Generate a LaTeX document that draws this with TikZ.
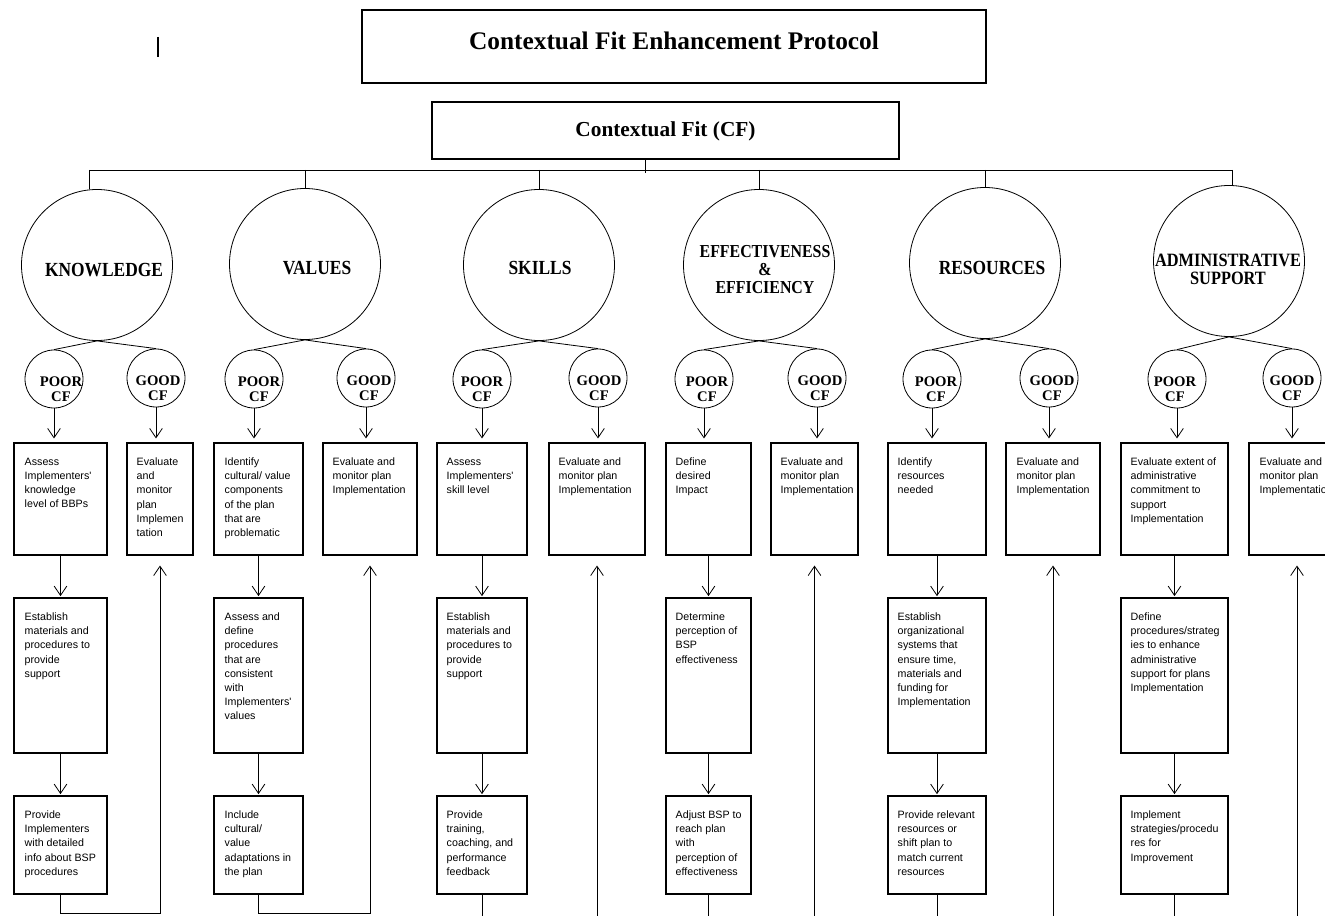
\documentclass[tikz,border=0pt]{standalone}
\usepackage{fontspec}
\setmainfont{Liberation Serif}
\newfontfamily\condserif{Liberation Serif}[FakeStretch=0.87]
\newfontfamily\boxsans{Liberation Sans}
\usetikzlibrary{arrows.meta,fit,calc}
\begin{document}
\begin{tikzpicture}[x=0.75pt,y=-0.75pt,
  frame/.style={draw, line width=0.8pt, inner sep=0pt},
  bigc/.style={draw, circle, line width=0.6pt, minimum size=113.25pt, inner sep=0pt},
  smallc/.style={draw, circle, line width=0.6pt, minimum size=43.5pt, inner sep=0pt},
  biglabel/.style={font=\condserif\bfseries\fontsize{15}{13.5}\selectfont, align=center, inner sep=0pt},
  cflabel/.style={font=\bfseries\fontsize{11}{11.25}\selectfont, align=center, inner sep=0pt},
  stepbox/.style={draw, line width=0.8pt, inner sep=0pt},
  boxtext/.style={font=\boxsans\fontsize{8}{10.65}\selectfont, align=left, anchor=north west, inner sep=0pt},
  link/.style={line width=0.6pt},
  arr/.style={line width=0.6pt, -{Straight Barb[length=7pt,width=9.5pt]}},
]
\useasboundingbox (0,0) rectangle (1325,916);
\fill[white] (0,0) rectangle (1325,916);
\clip (0,0) rectangle (1325,916);

% stray cursor mark
\draw[line width=1.5pt] (158,37) -- (158,57);

% titles
\node[frame, fit={(362,10) (986,83)}] (title) {};
\node[font=\bfseries\fontsize{19}{22}\selectfont, inner sep=0pt] (titlet) at (674,41) {Contextual Fit Enhancement Protocol};
\node[frame, fit={(432,102) (899,159)}] (cf) {};
\node[font=\bfseries\fontsize{16}{19}\selectfont, inner sep=0pt] (cft) at (665.5,131) {Contextual Fit (CF)};

% bus
\coordinate (busL) at (89,170);
\coordinate (busR) at (1232,170);
\draw[link] (busL) -- (busR);
\draw[link] ([xshift=-15pt]cf.south) -- ++(0,13);

% big circles
\node[bigc] (K) at (97,265) {};
\node[bigc] (V) at (305,264) {};
\node[bigc] (S) at (539,265) {};
\node[bigc] (E) at (759,265) {};
\node[bigc] (R) at (985,263) {};
\node[bigc] (A) at (1229,261) {};
\node[biglabel] (Kl) at (104,270) {KNOWLEDGE};
\node[biglabel] (Vl) at (317,268) {VALUES};
\node[biglabel] (Sl) at (540,268) {SKILLS};
\node[biglabel, font=\condserif\bfseries\fontsize{13.7}{13.5}\selectfont] (El) at (765,270) {EFFECTIVENESS\\\&\\EFFICIENCY};
\node[biglabel] (Rl) at (992,268) {RESOURCES};
\node[biglabel, font=\condserif\bfseries\fontsize{14.1}{13.5}\selectfont] (Al) at (1228,269) {ADMINISTRATIVE\\SUPPORT};

\draw[link] (busL) -- (busL |- K.north);
\foreach \c in {V,S,E,R}{\draw[link] (\c.north |- busL) -- (\c.north);}
\draw[link] (busR) -- (busR |- A.north);

% small circles
\foreach \c/\px/\gx in {K/54/156, V/254/366, S/482/598, E/704/817, R/932/1049, A/1177/1292}{
  \node[smallc] (\c p) at (\px,379) {};
  \node[smallc] (\c g) at (\gx,378) {};
  \draw[link] (\c.south) -- (\c p.north);
  \draw[link] (\c.south) -- (\c g.north);
}
\node[cflabel] (Kpt) at (61,389) {POOR\\CF};
\node[cflabel] (Kgt) at (158,388) {GOOD\\CF};
\node[cflabel] (Vpt) at (259,389) {POOR\\CF};
\node[cflabel] (Vgt) at (369,388) {GOOD\\CF};
\node[cflabel] (Spt) at (482,389) {POOR\\CF};
\node[cflabel] (Sgt) at (599,388) {GOOD\\CF};
\node[cflabel] (Ept) at (707,389) {POOR\\CF};
\node[cflabel] (Egt) at (820,388) {GOOD\\CF};
\node[cflabel] (Rpt) at (936,389) {POOR\\CF};
\node[cflabel] (Rgt) at (1052,388) {GOOD\\CF};
\node[cflabel] (Apt) at (1175,389) {POOR\\CF};
\node[cflabel] (Agt) at (1292,388) {GOOD\\CF};

% boxes: knowledge
\node[stepbox, fit={(14,443) (107,555)}] (k1) {};
\node[stepbox, fit={(127,443) (193,555)}] (kg) {};
\node[stepbox, fit={(14,598) (107,753)}] (k2) {};
\node[stepbox, fit={(14,796) (107,894)}] (k3) {};
% values
\node[stepbox, fit={(214,443) (303,555)}] (v1) {};
\node[stepbox, fit={(323,443) (417,555)}] (vg) {};
\node[stepbox, fit={(214,598) (303,753)}] (v2) {};
\node[stepbox, fit={(214,796) (303,894)}] (v3) {};
% skills
\node[stepbox, fit={(437,443) (527,555)}] (s1) {};
\node[stepbox, fit={(549,443) (645,555)}] (sg) {};
\node[stepbox, fit={(437,598) (527,753)}] (s2) {};
\node[stepbox, fit={(437,796) (527,894)}] (s3) {};
% effectiveness
\node[stepbox, fit={(666,443) (751,555)}] (e1) {};
\node[stepbox, fit={(771,443) (858,555)}] (eg) {};
\node[stepbox, fit={(666,598) (751,753)}] (e2) {};
\node[stepbox, fit={(666,796) (751,894)}] (e3) {};
% resources
\node[stepbox, fit={(888,443) (986,555)}] (r1) {};
\node[stepbox, fit={(1006,443) (1100,555)}] (rg) {};
\node[stepbox, fit={(888,598) (986,753)}] (r2) {};
\node[stepbox, fit={(888,796) (986,894)}] (r3) {};
% admin
\node[stepbox, fit={(1121,443) (1228,555)}] (a1) {};
\node[stepbox, fit={(1249,443) (1345,555)}] (ag) {};
\node[stepbox, fit={(1121,598) (1228,753)}] (a2) {};
\node[stepbox, fit={(1121,796) (1228,894)}] (a3) {};

% box texts
\node[boxtext] (k1t) at ($(k1.north west)+(11,15)$) {Assess\\Implementers'\\knowledge\\level of BBPs};
\node[boxtext] (kgt) at ($(kg.north west)+(10,15)$) {Evaluate\\and\\monitor\\plan\\Implemen\\tation};
\node[boxtext] (k2t) at ($(k2.north west)+(11,15)$) {Establish\\materials and\\procedures to\\provide\\support};
\node[boxtext] (k3t) at ($(k3.north west)+(11,15)$) {Provide\\Implementers\\with detailed\\info about BSP\\procedures};

\node[boxtext] (v1t) at ($(v1.north west)+(11,15)$) {Identify\\cultural/ value\\components\\of the plan\\that are\\problematic};
\node[boxtext] (vgt) at ($(vg.north west)+(10,15)$) {Evaluate and\\monitor plan\\Implementation};
\node[boxtext] (v2t) at ($(v2.north west)+(11,15)$) {Assess and\\define\\procedures\\that are\\consistent\\with\\Implementers'\\values};
\node[boxtext] (v3t) at ($(v3.north west)+(11,15)$) {Include\\cultural/\\value\\adaptations in\\the plan};

\node[boxtext] (s1t) at ($(s1.north west)+(10,15)$) {Assess\\Implementers'\\skill level};
\node[boxtext] (sgt) at ($(sg.north west)+(10,15)$) {Evaluate and\\monitor plan\\Implementation};
\node[boxtext] (s2t) at ($(s2.north west)+(10,15)$) {Establish\\materials and\\procedures to\\provide\\support};
\node[boxtext] (s3t) at ($(s3.north west)+(10,15)$) {Provide\\training,\\coaching, and\\performance\\feedback};

\node[boxtext] (e1t) at ($(e1.north west)+(10,15)$) {Define\\desired\\Impact};
\node[boxtext] (egt) at ($(eg.north west)+(10,15)$) {Evaluate and\\monitor plan\\Implementation};
\node[boxtext] (e2t) at ($(e2.north west)+(10,15)$) {Determine\\perception of\\BSP\\effectiveness};
\node[boxtext] (e3t) at ($(e3.north west)+(10,15)$) {Adjust BSP to\\reach plan\\with\\perception of\\effectiveness};

\node[boxtext] (r1t) at ($(r1.north west)+(10,15)$) {Identify\\resources\\needed};
\node[boxtext] (rgt) at ($(rg.north west)+(11,15)$) {Evaluate and\\monitor plan\\Implementation};
\node[boxtext] (r2t) at ($(r2.north west)+(10,15)$) {Establish\\organizational\\systems that\\ensure time,\\materials and\\funding for\\Implementation};
\node[boxtext] (r3t) at ($(r3.north west)+(10,15)$) {Provide relevant\\resources or\\shift plan to\\match current\\resources};

\node[boxtext] (a1t) at ($(a1.north west)+(10,15)$) {Evaluate extent of\\administrative\\commitment to\\support\\Implementation};
\node[boxtext] (agt) at ($(ag.north west)+(11,15)$) {Evaluate and\\monitor plan\\Implementation};
\node[boxtext] (a2t) at ($(a2.north west)+(10,15)$) {Define\\procedures/strateg\\ies to enhance\\administrative\\support for plans\\Implementation};
\node[boxtext] (a3t) at ($(a3.north west)+(10,15)$) {Implement\\strategies/procedu\\res for\\Improvement};

% arrows from small circles to first boxes
\foreach \c/\b/\g in {K/k/k, V/v/v, S/s/s, E/e/e, R/r/r, A/a/a}{
  \draw[arr, shorten >=3pt] (\c p.south) -- (\c p.south |- \b 1.north);
  \draw[arr, shorten >=3pt] (\c g.south) -- (\c g.south |- \g g.north);
  \draw[arr, shorten >=1pt] (\b 1.south) -- (\b 2.north);
  \draw[arr, shorten >=1pt] (\b 2.south) -- (\b 3.north);
}
% return lines
\draw[arr] (k3.south) -- ++(0,19) -| ([yshift=-7.5pt]kg.south);
\draw[arr] (v3.south) -- ++(0,19) -| ([yshift=-7.5pt]vg.south);
\foreach \b in {s,e,r,a}{
  \draw[arr] (\b 3.south) -- ++(0,35) -| ([yshift=-7.5pt]\b g.south);
}
\end{tikzpicture}
\end{document}
